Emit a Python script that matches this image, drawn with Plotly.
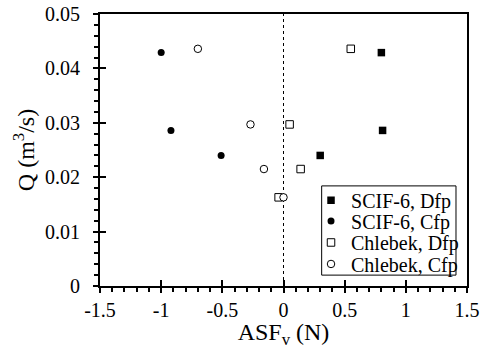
import plotly.graph_objects as go

# Data (ASF_v in N, Q in m^3/s)
scif_dfp_x = [0.80, 0.81, 0.30]
scif_dfp_y = [0.0429, 0.0286, 0.0240]
scif_cfp_x = [-1.00, -0.92, -0.51]
scif_cfp_y = [0.0429, 0.0286, 0.0240]
chl_dfp_x = [0.55, 0.05, 0.14, -0.04]
chl_dfp_y = [0.0436, 0.0297, 0.0215, 0.0163]
chl_cfp_x = [-0.70, -0.27, -0.16, 0.00]
chl_cfp_y = [0.0436, 0.0297, 0.0215, 0.0163]

x_ticks = [-1.5, -1, -0.5, 0, 0.5, 1, 1.5]
x_ticklabels = ["-1.5", "-1", "-0.5", "0", "0.5", "1", "1.5"]
y_ticks = [0, 0.01, 0.02, 0.03, 0.04, 0.05]
y_ticklabels = ["0", "0.01", "0.02", "0.03", "0.04", "0.05"]

FONT = "Liberation Serif"

fig = go.Figure()
fig.add_trace(go.Scatter(x=scif_dfp_x, y=scif_dfp_y, mode="markers", name="SCIF-6, Dfp",
                         legend="legend",
                         marker=dict(symbol="square", size=7.5, color="black",
                                     line=dict(width=0))))
fig.add_trace(go.Scatter(x=scif_cfp_x, y=scif_cfp_y, mode="markers", name="SCIF-6, Cfp",
                         legend="legend2",
                         marker=dict(symbol="circle", size=7, color="black",
                                     line=dict(width=0))))
fig.add_trace(go.Scatter(x=chl_dfp_x, y=chl_dfp_y, mode="markers", name="Chlebek, Dfp",
                         legend="legend3",
                         marker=dict(symbol="square", size=7.5, color="white",
                                     line=dict(width=1, color="black"))))
fig.add_trace(go.Scatter(x=chl_cfp_x, y=chl_cfp_y, mode="markers", name="Chlebek, Cfp",
                         legend="legend4",
                         marker=dict(symbol="circle", size=7.5, color="white",
                                     line=dict(width=1, color="black"))))

# dashed vertical line at x = 0
fig.add_shape(type="line", x0=0, x1=0, y0=0, y1=0.05, xref="x", yref="y",
              line=dict(color="black", width=1, dash="3px,3px"), layer="below")

# legend frame
fig.add_shape(type="rect", xref="paper", yref="paper", x0=0.604, x1=0.970,
              y0=0.040, y1=0.368, line=dict(color="black", width=1),
              fillcolor="white", layer="above")

# invisible trace for overlay axes (inside part of major ticks)
fig.add_trace(go.Scatter(x=[None], y=[None], xaxis="x2", yaxis="y2", showlegend=False))

axis_common = dict(showgrid=False, zeroline=False, showline=True, linecolor="black",
                   linewidth=2, mirror=True, ticks="outside", ticklen=5, tickwidth=1.5,
                   tickcolor="black", automargin=False, ticklabeloverflow="allow",
                   tickfont=dict(family=FONT, size=20, color="black"))

LEG_X = 0.575
legend_rows = [0.315, 0.239, 0.160, 0.081]


def leg(yc):
    return dict(x=LEG_X, y=yc, xanchor="left", yanchor="middle",
                bgcolor="rgba(0,0,0,0)", borderwidth=0,
                font=dict(family=FONT, size=20, color="black"),
                itemwidth=30, tracegroupgap=0)


fig.update_layout(
    width=486, height=349,
    margin=dict(l=100, r=19, t=14, b=63),
    paper_bgcolor="white", plot_bgcolor="white",
    font=dict(family=FONT, color="black"),
    showlegend=True,
    legend=leg(legend_rows[0]),
    legend2=leg(legend_rows[1]),
    legend3=leg(legend_rows[2]),
    legend4=leg(legend_rows[3]),
    xaxis=dict(range=[-1.5, 1.5], tickvals=x_ticks, ticktext=x_ticklabels,
               minor=dict(dtick=0.1, ticks="outside", ticklen=4, tickwidth=1.5,
                          tickcolor="black", showgrid=False),
               title=dict(text="ASF<sub>v</sub> (N)", font=dict(family=FONT, size=24),
                          standoff=0),
               **axis_common),
    yaxis=dict(range=[0, 0.05], tickvals=y_ticks, ticktext=y_ticklabels,
               ticklabelstandoff=9,
               minor=dict(dtick=0.002, ticks="outside", ticklen=4, tickwidth=1.5,
                          tickcolor="black", showgrid=False),
               title=dict(text="Q (m<sup>3</sup>/s)", font=dict(family=FONT, size=24),
                          standoff=4),
               **axis_common),
    xaxis2=dict(range=[-1.5, 1.5], overlaying="x", tickvals=x_ticks, showticklabels=False,
                ticks="inside", ticklen=6, tickwidth=1.5, tickcolor="black",
                showgrid=False, zeroline=False, showline=False, anchor="y2"),
    yaxis2=dict(range=[0, 0.05], overlaying="y", tickvals=y_ticks, showticklabels=False,
                ticks="inside", ticklen=6, tickwidth=1.5, tickcolor="black",
                showgrid=False, zeroline=False, showline=False, anchor="x2"),
)

fig.write_html("out.html", config={"displayModeBar": False},
               post_script="document.body.style.margin='0';")
